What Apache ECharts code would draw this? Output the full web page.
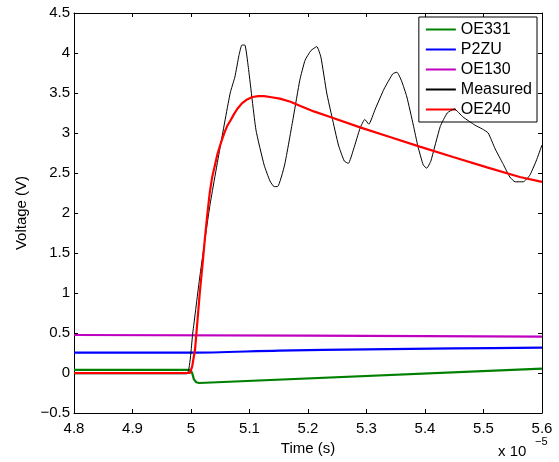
<!DOCTYPE html>
<html>
<head>
<meta charset="utf-8">
<script src="https://cdn.jsdelivr.net/npm/echarts@6/dist/echarts.min.js"></script>
<style>
html,body{margin:0;padding:0;background:#fff;}
#chart{width:559px;height:462px;}
</style>
</head>
<body>
<div id="chart"></div>
<script>
// Time in units of 1e-5 s
const seriesNames = ['OE331', 'P2ZU', 'OE130', 'Measured', 'OE240'];

const oe331T = [4.8, 4.999, 5.002, 5.005, 5.009, 5.014, 5.6];
const oe331V = [0.04, 0.04, 0.0, -0.08, -0.115, -0.125, 0.055];

const p2zuT = [4.8, 5.0, 5.15, 5.3, 5.45, 5.6];
const p2zuV = [0.254, 0.254, 0.28, 0.296, 0.308, 0.316];

const oe130T = [4.8, 5.2, 5.6];
const oe130V = [0.475, 0.468, 0.455];

const measuredT = [4.8, 4.85, 4.9, 4.95, 4.993, 5.003, 5.015, 5.032, 5.05, 5.067, 5.075, 5.082, 5.087, 5.092, 5.098,
  5.111, 5.125, 5.135, 5.142, 5.148, 5.16, 5.175, 5.186, 5.195, 5.205, 5.215, 5.222, 5.232, 5.241, 5.252, 5.262,
  5.269, 5.278, 5.289, 5.297, 5.304, 5.315, 5.33, 5.345, 5.352, 5.36, 5.369, 5.38, 5.388, 5.397, 5.403, 5.41,
  5.426, 5.438, 5.45, 5.465, 5.485, 5.498, 5.508, 5.52, 5.533, 5.545, 5.554, 5.568, 5.579, 5.59, 5.6];
const measuredV = [-0.01, -0.01, -0.01, -0.01, -0.01, 0.5, 1.2, 2.08, 2.83, 3.5, 3.7, 3.97, 4.1, 4.1, 3.82,
  3.04, 2.6, 2.4, 2.33, 2.33, 2.6, 3.2, 3.66, 3.91, 4.03, 4.08, 3.95, 3.5, 3.2, 2.85, 2.65,
  2.62, 2.8, 3.06, 3.17, 3.11, 3.3, 3.55, 3.74, 3.76, 3.65, 3.45, 3.1, 2.83, 2.6, 2.56, 2.65,
  3.08, 3.25, 3.3, 3.2, 3.1, 3.05, 3.0, 2.8, 2.62, 2.45, 2.39, 2.39, 2.47, 2.65, 2.85];

const oe240T = [4.8, 4.998, 5.002, 5.007, 5.011, 5.015, 5.02, 5.024, 5.028, 5.032, 5.036, 5.041, 5.045, 5.05,
  5.054, 5.058, 5.062, 5.067, 5.073, 5.079, 5.087, 5.096, 5.105, 5.115, 5.125, 5.135, 5.152, 5.17, 5.186,
  5.21, 5.238, 5.289, 5.34, 5.391, 5.448, 5.506, 5.562, 5.6];
const oe240V = [0, 0, 0.08, 0.3, 0.65, 1.0, 1.38, 1.7, 1.99, 2.25, 2.44, 2.6, 2.73, 2.85,
  2.94, 3.02, 3.09, 3.15, 3.23, 3.3, 3.37, 3.42, 3.45, 3.46, 3.46, 3.45, 3.43, 3.39, 3.34,
  3.27, 3.2, 3.07, 2.95, 2.83, 2.7, 2.57, 2.45, 2.39];

const xTicks = {min: 4.8, max: 5.6, interval: 0.1};
const yTicks = {min: -0.5, max: 4.5, interval: 0.5};

function zip(t, v) { return t.map((x, i) => [x, v[i]]); }
function fmt(v) {
  let s = (Math.round(v * 10) / 10).toString();
  return s.replace('-', '\u2212');
}

const colors = ['#008000', '#0000ff', '#bf00bf', '#000000', '#ff0000'];
const widths = [2.2, 2.2, 2.2, 1, 2.2];
const smooths = [false, 0.3, false, 0.15, false];
const dataSets = [zip(oe331T, oe331V), zip(p2zuT, p2zuV), zip(oe130T, oe130V), zip(measuredT, measuredV), zip(oe240T, oe240V)];

const font = 'Liberation Sans, Arial, Helvetica, sans-serif';

const chart = echarts.init(document.getElementById('chart'), null, {renderer: 'canvas'});
const axisCommon = {
  type: 'value',
  axisLine: {show: true, onZero: false, lineStyle: {color: '#000', width: 1}},
  axisTick: {show: true, inside: true, length: 4, lineStyle: {color: '#000'}},
  splitLine: {show: false}
};
chart.setOption({
  animation: false,
  backgroundColor: '#fff',
  grid: {left: 74, right: 17, top: 13, bottom: 49, containLabel: false},
  xAxis: [
    Object.assign({}, axisCommon, {
      min: xTicks.min, max: xTicks.max, interval: xTicks.interval, position: 'bottom',
      name: 'Time (s)', nameLocation: 'middle', nameGap: 22,
      nameTextStyle: {fontSize: 15, color: '#000', fontFamily: font},
      axisLabel: {show: true, margin: 8, fontSize: 15, color: '#000', fontFamily: font, formatter: fmt}
    }),
    Object.assign({}, axisCommon, {
      min: xTicks.min, max: xTicks.max, interval: xTicks.interval, position: 'top',
      axisLabel: {show: false}
    })
  ],
  yAxis: [
    Object.assign({}, axisCommon, {
      min: yTicks.min, max: yTicks.max, interval: yTicks.interval, position: 'left',
      name: 'Voltage (V)', nameLocation: 'middle', nameGap: 45, nameRotate: 90,
      nameTextStyle: {fontSize: 15, color: '#000', fontFamily: font},
      axisLabel: {show: true, margin: 4, fontSize: 15, color: '#000', fontFamily: font, formatter: fmt}
    }),
    Object.assign({}, axisCommon, {
      min: yTicks.min, max: yTicks.max, interval: yTicks.interval, position: 'right',
      axisLabel: {show: false}
    })
  ],
  legend: {
    right: 22, top: 17, orient: 'vertical',
    padding: [4, 5, 4, 7],
    itemGap: 3, itemWidth: 30, itemHeight: 2,
    backgroundColor: '#fff', borderColor: '#000', borderWidth: 1, borderRadius: 0,
    textStyle: {fontSize: 16, color: '#000', fontFamily: font, lineHeight: 17},
    data: seriesNames.map(n => ({name: n, icon: 'rect'}))
  },
  graphic: [
    {type: 'text', left: 498, top: 444, style: {text: 'x 10', fontSize: 15, fill: '#000', fontFamily: font}},
    {type: 'text', left: 535, top: 436, style: {text: '\u22125', fontSize: 11, fill: '#000', fontFamily: font}}
  ],
  series: seriesNames.map((n, i) => ({
    name: n, type: 'line', data: dataSets[i], showSymbol: false, symbol: 'none',
    smooth: smooths[i],
    color: colors[i],
    lineStyle: {color: colors[i], width: widths[i]},
    xAxisIndex: 0, yAxisIndex: 0, z: 2 + i
  }))
});
</script>
</body>
</html>
